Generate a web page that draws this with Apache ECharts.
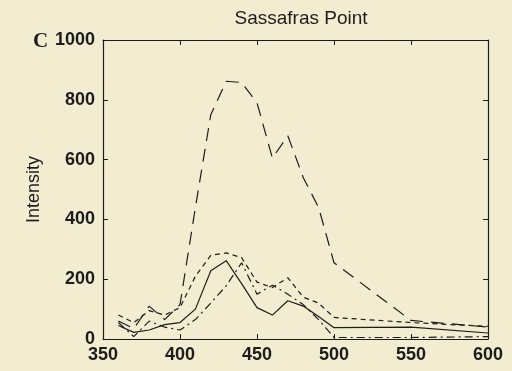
<!DOCTYPE html>
<html>
<head>
<meta charset="utf-8">
<script src="https://cdn.jsdelivr.net/npm/echarts@6/dist/echarts.min.js"></script>
<style>
  html, body { margin: 0; padding: 0; background: #f2edd0; }
  #chart { width: 512px; height: 371px; }
</style>
</head>
<body>
<div id="chart"></div>
<script>
// wavelength (nm)
const wavelengths = [360, 370, 380, 390, 400, 410, 420, 430, 440, 450, 460, 470, 480, 490, 500, 550, 600]
// intensity per trace
const longDash = [60, 35, 110, 65, 115, 440, 750, 862, 858, 790, 605, 680, 540, 440, 255, 62, 40]
const shortDash = [80, 55, 95, 80, 105, 210, 280, 288, 272, 190, 172, 205, 140, 120, 72, 55, 42]
const solid = [45, 22, 30, 48, 55, 100, 228, 262, 185, 105, 80, 128, 110, 75, 38, 40, 20]
const dashDot = [55, 8, 60, 40, 30, 65, 120, 178, 255, 150, 180, 150, 115, 65, 5, 5, 8]

const xTicks = [350, 400, 450, 500, 550, 600]
const yTicks = [0, 200, 400, 600, 800, 1000]

const ink = '#1c1c1c'
const labelFont = { color: ink, fontSize: 18, fontWeight: 'bold', fontFamily: 'Liberation Sans, Arial, sans-serif' }

function pairs(vals) {
  return wavelengths.map((w, i) => [w, vals[i]])
}

function mkLine(vals, type) {
  return {
    type: 'line',
    data: pairs(vals),
    symbol: 'none',
    smooth: false,
    silent: true,
    lineStyle: { color: ink, width: 1.2, type: type }
  }
}

const el = document.getElementById('chart')
const chart = echarts.init(el)

const xBase = {
  type: 'value',
  min: xTicks[0],
  max: xTicks[xTicks.length - 1],
  interval: 50,
  axisLine: { show: true, onZero: false, lineStyle: { color: ink, width: 1.2 } },
  axisTick: { show: true, inside: true, length: 5, lineStyle: { color: ink } },
  splitLine: { show: false }
}
const yBase = {
  type: 'value',
  min: yTicks[0],
  max: yTicks[yTicks.length - 1],
  interval: 200,
  axisLine: { show: true, onZero: false, lineStyle: { color: ink, width: 1.2 } },
  axisTick: { show: true, inside: true, length: 5, lineStyle: { color: ink } },
  splitLine: { show: false }
}

chart.setOption({
  backgroundColor: '#f2edd0',
  animation: false,
  title: {
    text: 'Sassafras Point',
    left: 296,
    top: 4,
    textAlign: 'center',
    textStyle: { color: ink, fontSize: 19, fontWeight: 'normal', fontFamily: 'Liberation Sans, Arial, sans-serif' }
  },
  grid: { left: 103, right: 24, top: 40, bottom: 32, containLabel: false },
  xAxis: [
    Object.assign({}, xBase, {
      position: 'bottom',
      axisLabel: Object.assign({ margin: 7, formatter: v => String(v) }, labelFont)
    }),
    Object.assign({}, xBase, { position: 'top', axisLabel: { show: false } })
  ],
  yAxis: [
    Object.assign({}, yBase, {
      position: 'left',
      name: 'Intensity',
      nameLocation: 'middle',
      nameGap: 60,
      nameTextStyle: { color: ink, fontSize: 18, fontFamily: 'Liberation Sans, Arial, sans-serif' },
      axisLabel: Object.assign({ margin: 8, formatter: v => String(v) }, labelFont)
    }),
    Object.assign({}, yBase, { position: 'right', axisLabel: { show: false } })
  ],
  graphic: [
    {
      type: 'text',
      left: 33,
      top: 31,
      style: { text: 'C', fill: ink, font: 'bold 21px "Liberation Serif", "Times New Roman", serif' }
    }
  ],
  series: [
    mkLine(longDash, [13, 8]),
    mkLine(shortDash, [5, 4]),
    mkLine(solid, 'solid'),
    mkLine(dashDot, [8, 4, 2, 4])
  ]
})
</script>
</body>
</html>
